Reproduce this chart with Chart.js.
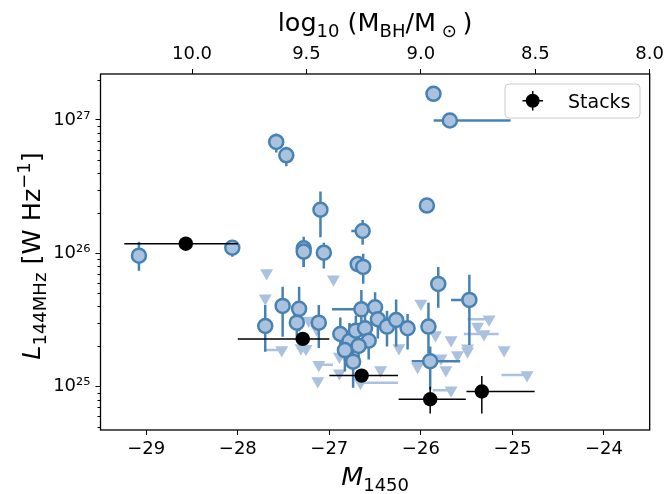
<!DOCTYPE html>
<html><head><meta charset="utf-8">
<script src="https://cdn.jsdelivr.net/npm/chart.js@4.4.0/dist/chart.umd.min.js"></script>
<style>html,body{margin:0;padding:0;background:#fff}canvas{display:block}</style>
</head><body>
<canvas id="c" width="668" height="494"></canvas>
<script>
// ---------- axis ticks ----------
const xTicks = [-29, -28, -27, -26, -25, -24];
const topTicks = [10.0, 9.5, 9.0, 8.5, 8.0];
const yMajorTicks = [1e25, 1e26, 1e27];
const yMinorTicks = [5e24, 6e24, 7e24, 8e24, 9e24,
  2e25, 3e25, 4e25, 5e25, 6e25, 7e25, 8e25, 9e25,
  2e26, 3e26, 4e26, 5e26, 6e26, 7e26, 8e26, 9e26, 2e27];

// ---------- detections (blue circles) ----------
const detM   = [-29.08, -28.06, -27.58, -27.47, -27.097, -27.28, -27.28, -27.06, -26.636, -26.69, -26.63,
  -27.70, -27.51, -27.33, -27.355, -27.115, -26.88, -26.78, -26.71, -26.61, -26.57, -26.83, -26.68, -26.74,
  -26.65, -26.50, -26.47, -26.37, -26.27, -26.145, -25.917, -25.898, -25.81, -25.47, -25.862, -25.683, -25.934];
const detL   = [9.6e25, 1.10e26, 6.84e26, 5.43e26, 2.12e26, 1.09e26, 1.03e26, 1.01e26, 1.47e26, 8.3e25, 7.9e25,
  2.85e25, 4.03e25, 3.83e25, 3.02e25, 3.02e25, 2.48e25, 2.2e25, 2.63e25, 2.74e25, 2.21e25, 1.88e25, 2.02e25, 1.54e25,
  3.8e25, 3.94e25, 3.2e25, 2.82e25, 3.16e25, 2.74e25, 2.82e25, 1.55e25, 5.89e25, 4.47e25, 1.57e27, 9.9e26, 2.28e26];
const detLlo = [7.4e25, 9.4e25, 5.7e26, 4.5e26, 1.32e26, 7.9e25, 7.9e25, 7.7e25, 1.16e26, null, 5.9e25,
  1.83e25, 2.37e25, 2.6e25, 2.2e25, 1.95e25, 1.73e25, 1.4e25, 1.8e25, 1.9e25, 1.6e25, 1.3e25, 1.4e25, 9.8e24,
  2.7e25, 2.9e25, 2.3e25, 2.0e25, 2.0e25, 1.9e25, 1.78e25, 9.5e24, 3.9e25, 2.05e25, null, null, null];
const detLhi = [1.22e26, 1.2e26, 7.9e26, 6.3e26, 2.9e26, 1.33e26, 1.25e26, 1.2e26, 1.78e26, null, 9.9e25,
  4.1e25, 5.6e25, 5.6e25, 3.8e25, 4.1e25, 3.3e25, 3.0e25, 3.4e25, 3.6e25, 2.9e25, 2.5e25, 2.7e25, 2.1e25,
  5.3e25, 5.1e25, 4.2e25, 3.7e25, 4.5e25, 3.5e25, 4.26e25, 2.0e25, 7.9e25, 6.9e25, null, null, null];
const detMlo = [null, null, null, null, null, null, null, null, -26.76, null, null,
  null, null, null, null, null, null, null, null, null, null, null, null, null,
  -26.97, null, null, null, null, null, null, -26.10, null, -25.67, null, -25.86, null];
const detMhi = [null, null, null, null, null, null, null, null, null, null, null,
  null, null, null, null, null, null, null, null, null, null, null, null, null,
  null, null, null, null, null, null, null, -25.57, null, null, null, -25.02, null];

// ---------- upper limits (light triangles) ----------
const limM   = [-27.685, -26.955, -27.70, -27.52, -27.31, -27.255, -27.226, -27.115, -27.126, -26.89, -26.89,
  -26.44, -26.66, -26.0, -25.255, -25.38, -25.31, -25.84, -25.67, -25.49, -25.6, -25.78, -25.09, -26.036,
  -25.727, -24.84, -25.67, -26.24, -25.49, -27.14, -26.80];
const limL   = [7.1e25, 6.4e25, 4.6e25, 1.88e25, 1.95e25, 1.92e25, 3.13e25, 1.46e25, 1.1e25, 1.68e25, 1.26e25,
  1.33e25, 1.07e25, 4.2e25, 3.2e25, 2.82e25, 2.48e25, 2.44e25, 2.24e25, 1.94e25, 1.73e25, 1.63e25, 1.88e25, 1.41e25,
  1.33e25, 1.22e25, 9.4e24, 1.95e25, 1.84e25, 2.7e25, 1.58e25];
const limMlo = [null, null, null, -27.70, null, null, null, -27.16, null, null, null,
  null, null, null, -25.49, null, -25.53, null, null, null, null, null, null, null,
  null, -25.12, -25.87, null, null, null, null];
const limMhi = [null, null, null, null, null, null, null, -26.96, null, null, null,
  null, -26.25, null, null, null, -25.15, null, null, null, null, null, null, null,
  null, null, null, null, null, null, null];

// ---------- stacks (black) ----------
const stkM   = [-28.568, -27.29, -26.647, -25.898, -25.334];
const stkL   = [1.18e26, 2.28e25, 1.21e25, 8.04e24, 9.2e24];
const stkMlo = [-29.24, -28.0, -27.0, -26.243, -25.502];
const stkMhi = [-28.0, -27.0, -26.25, -25.509, -24.757];
const stkLlo = [null, null, null, 6.3e24, 6.3e24];
const stkLhi = [null, null, null, 1.0e25, 1.2e25];

const FONT = "'DejaVu Sans', sans-serif";
const pts = (xs, ys) => xs.map((x, i) => ({x: x, y: ys[i]}));

const errSpec = [
  {xlo: limMlo, xhi: limMhi, ylo: null, yhi: null, color: '#abc2df', width: 2.5},
  {xlo: detMlo, xhi: detMhi, ylo: detLlo, yhi: detLhi, color: '#4682b4', width: 2.5},
  {xlo: stkMlo, xhi: stkMhi, ylo: stkLlo, yhi: stkLhi, color: '#000000', width: 1.5}
];

const errPlugin = {
  id: 'errbars',
  beforeDatasetDraw(chart, args) {
    const spec = errSpec[args.index];
    if (!spec) return;
    const ds = chart.data.datasets[args.index];
    const xs = chart.scales.x, ys = chart.scales.y, a = chart.chartArea, ctx = chart.ctx;
    ctx.save();
    ctx.beginPath(); ctx.rect(a.left, a.top, a.right - a.left, a.bottom - a.top); ctx.clip();
    ctx.strokeStyle = spec.color; ctx.lineWidth = spec.width; ctx.lineCap = 'butt';
    ds.data.forEach((p, i) => {
      const px = xs.getPixelForValue(p.x), py = ys.getPixelForValue(p.y);
      const xl = spec.xlo ? spec.xlo[i] : null, xh = spec.xhi ? spec.xhi[i] : null;
      if (xl != null || xh != null) {
        ctx.beginPath();
        ctx.moveTo(xs.getPixelForValue(xl != null ? xl : p.x), py);
        ctx.lineTo(xs.getPixelForValue(xh != null ? xh : p.x), py);
        ctx.stroke();
      }
      const yl = spec.ylo ? spec.ylo[i] : null, yh = spec.yhi ? spec.yhi[i] : null;
      if (yl != null || yh != null) {
        ctx.beginPath();
        ctx.moveTo(px, ys.getPixelForValue(yl != null ? yl : p.y));
        ctx.lineTo(px, ys.getPixelForValue(yh != null ? yh : p.y));
        ctx.stroke();
      }
    });
    ctx.restore();
  }
};

function drawRich(ctx, runs, x, y) {
  let total = 0;
  runs.forEach(r => { ctx.font = (r.style || '') + ' ' + r.size + 'px ' + FONT; r.w = ctx.measureText(r.t).width; total += r.w; });
  let cx = x - total / 2;
  ctx.textAlign = 'left'; ctx.textBaseline = 'alphabetic';
  runs.forEach(r => {
    ctx.font = (r.style || '') + ' ' + r.size + 'px ' + FONT;
    ctx.fillText(r.t, cx, y + (r.dy || 0));
    cx += r.w;
  });
}

const decoPlugin = {
  id: 'deco',
  afterDraw(chart) {
    const ctx = chart.ctx, a = chart.chartArea, ys = chart.scales.y;
    ctx.save();
    ctx.fillStyle = '#000'; ctx.strokeStyle = '#000';
    ctx.lineWidth = 1;
    yMinorTicks.forEach(v => {
      const py = Math.round(ys.getPixelForValue(v)) + 0.5;
      ctx.beginPath(); ctx.moveTo(a.left, py); ctx.lineTo(a.left - 3, py); ctx.stroke();
    });
    ctx.lineWidth = 1.3;
    ctx.strokeRect(a.left, a.top, a.right - a.left, a.bottom - a.top);
    const cx = (a.left + a.right) / 2;
    const B = 25.5, S = 18;
    drawRich(ctx, [
      {t: 'log', size: B}, {t: '10', size: S, dy: 5.5},
      {t: ' (M', size: B}, {t: 'BH', size: S, dy: 5.5},
      {t: '/M', size: B}, {t: ' \u2299 ', size: S, dy: 5.5}, {t: ')', size: B}
    ], cx, 31);
    drawRich(ctx, [
      {t: 'M', size: B, style: 'italic'}, {t: '1450', size: S, dy: 5.5}
    ], cx, 485);
    ctx.save();
    ctx.translate(40, (a.top + a.bottom) / 2 + 4);
    ctx.rotate(-Math.PI / 2);
    drawRich(ctx, [
      {t: 'L', size: B, style: 'italic'}, {t: '144MHz', size: S, dy: 5.5},
      {t: ' [W Hz', size: B}, {t: '\u22121', size: S, dy: -10}, {t: ']', size: B}
    ], 0, 0);
    ctx.restore();
    const lx = 505, ly = 84, lw = 135, lh = 34, rr = 4;
    ctx.beginPath();
    ctx.moveTo(lx + rr, ly); ctx.lineTo(lx + lw - rr, ly); ctx.quadraticCurveTo(lx + lw, ly, lx + lw, ly + rr);
    ctx.lineTo(lx + lw, ly + lh - rr); ctx.quadraticCurveTo(lx + lw, ly + lh, lx + lw - rr, ly + lh);
    ctx.lineTo(lx + rr, ly + lh); ctx.quadraticCurveTo(lx, ly + lh, lx, ly + lh - rr);
    ctx.lineTo(lx, ly + rr); ctx.quadraticCurveTo(lx, ly, lx + rr, ly); ctx.closePath();
    ctx.fillStyle = 'rgba(255,255,255,0.8)'; ctx.fill();
    ctx.strokeStyle = '#cccccc'; ctx.lineWidth = 1; ctx.stroke();
    ctx.strokeStyle = '#000'; ctx.lineWidth = 1.5; ctx.fillStyle = '#000';
    ctx.beginPath(); ctx.moveTo(522.5, 100.7); ctx.lineTo(543, 100.7); ctx.moveTo(532.7, 91); ctx.lineTo(532.7, 110.5); ctx.stroke();
    ctx.beginPath(); ctx.arc(532.7, 100.7, 7, 0, Math.PI * 2); ctx.fill();
    ctx.font = '19px ' + FONT; ctx.textAlign = 'left'; ctx.textBaseline = 'alphabetic';
    ctx.fillText('Stacks', 568, 107.5);
    ctx.restore();
  }
};

const tickFont = {family: FONT, size: 18};
const gridOpts = {drawOnChartArea: false, drawTicks: true, tickLength: 5, color: '#000', lineWidth: 1};

new Chart(document.getElementById('c'), {
  type: 'scatter',
  data: {
    datasets: [
      {label: 'limits', order: 3, data: pts(limM, limL), pointStyle: 'triangle', pointRotation: 180,
       pointRadius: 7.5, pointHoverRadius: 7.5, backgroundColor: '#abc2df', borderWidth: 0},
      {label: 'detections', order: 2, data: pts(detM, detL), pointStyle: 'circle',
       pointRadius: 7, pointHoverRadius: 7, backgroundColor: '#abc2df', borderColor: '#4682b4', borderWidth: 2.5},
      {label: 'Stacks', order: 1, data: pts(stkM, stkL), pointStyle: 'circle',
       pointRadius: 7.2, pointHoverRadius: 7.2, backgroundColor: '#000', borderColor: '#000', borderWidth: 0}
    ]
  },
  options: {
    responsive: false, animation: false, devicePixelRatio: 1,
    layout: {padding: {left: 0, right: 17, top: 0, bottom: 0}},
    plugins: {legend: {display: false}, tooltip: {enabled: false}},
    scales: {
      x: {type: 'linear', position: 'bottom', min: -29.5, max: -23.5,
          afterBuildTicks: s => { s.ticks = xTicks.map(v => ({value: v})); },
          afterFit: s => { s.height = 64; },
          ticks: {font: tickFont, color: '#000', padding: 4, maxRotation: 0,
                  callback: v => (v < 0 ? '\u2212' + Math.abs(v) : String(v))},
          grid: gridOpts, border: {display: false}},
      x2: {type: 'linear', position: 'top', display: true, reverse: true, min: 8.0, max: 10.4,
           afterBuildTicks: s => { s.ticks = topTicks.map(v => ({value: v})); },
           afterFit: s => { s.height = 74; },
           ticks: {font: tickFont, color: '#000', padding: 4, maxRotation: 0,
                   callback: v => Number(v).toFixed(1)},
           grid: gridOpts, border: {display: false}},
      y: {type: 'logarithmic', position: 'left', min: 4.73e24, max: 2.21e27,
          afterBuildTicks: s => { s.ticks = yMajorTicks.map(v => ({value: v, major: true})); },
          afterFit: s => { s.width = 100.5; },
          ticks: {font: tickFont, color: '#000', padding: 5,
                  callback: v => '10' + String(Math.round(Math.log10(v))).split('').map(d => '\u2070\u00b9\u00b2\u00b3\u2074\u2075\u2076\u2077\u2078\u2079'[+d]).join('')},
          grid: gridOpts, border: {display: false}}
    }
  },
  plugins: [errPlugin, decoPlugin]
});
</script>
</body></html>
